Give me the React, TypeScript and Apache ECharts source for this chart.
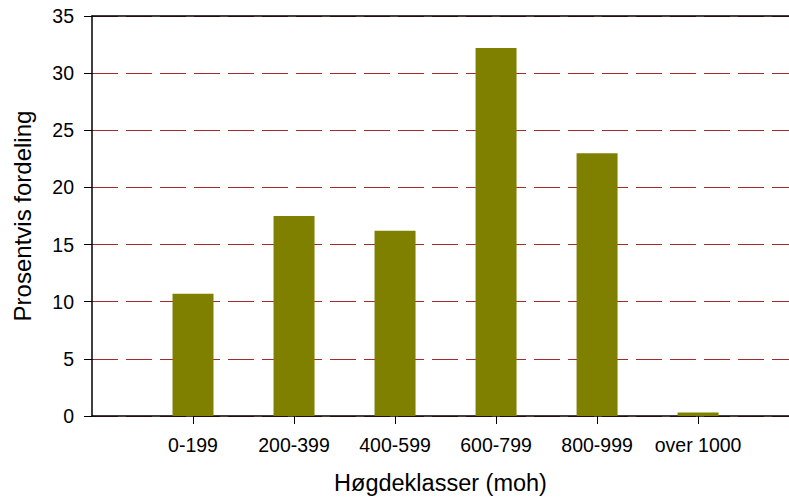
import React, { useEffect, useRef } from "react";
import * as echarts from "echarts";

const categories = ["0-199", "200-399", "400-599", "600-799", "800-999", "over 1000"];
const values = [10.7, 17.5, 16.2, 32.2, 23.0, 0.3];
const yTicks = [0, 5, 10, 15, 20, 25, 30, 35];
const xTitle = "Høgdeklasser (moh)";
const yTitle = "Prosentvis fordeling";

const FONT = "'Liberation Sans', Arial, sans-serif";

export default function App() {
  const ref = useRef<HTMLDivElement>(null);
  useEffect(() => {
    if (!ref.current) return;
    const chart = echarts.init(ref.current, undefined, { renderer: "svg" });
    const positions = categories.map((_, i) => i + 1);
    chart.setOption({
      animation: false,
      backgroundColor: "#ffffff",
      grid: { left: 92, right: 0, top: 16, bottom: 85 },
      xAxis: [
        {
          type: "value",
          min: 0,
          max: 6.9,
          interval: 1,
          name: xTitle,
          nameLocation: "middle",
          nameGap: 55,
          nameTextStyle: { fontFamily: FONT, fontSize: 23.5, color: "#000" },
          axisLine: { show: true, lineStyle: { color: "#000", width: 1.5 } },
          axisTick: { show: true, length: 8, lineStyle: { color: "#000" }, customValues: positions },
          axisLabel: {
            show: true,
            customValues: positions,
            formatter: (v: number) => categories[Math.round(v) - 1] ?? "",
            fontFamily: FONT,
            fontSize: 19.5,
            color: "#000",
            margin: 19,
          },
          splitLine: { show: false },
        },
        {
          type: "value",
          position: "top",
          min: 0,
          max: 6.9,
          axisLine: { show: true, lineStyle: { color: "#000", width: 1.5 } },
          axisTick: { show: false },
          axisLabel: { show: false },
          splitLine: { show: false },
        },
      ],
      yAxis: {
        type: "value",
        min: yTicks[0],
        max: yTicks[yTicks.length - 1],
        interval: 5,
        name: yTitle,
        nameLocation: "middle",
        nameGap: 58,
        nameTextStyle: { fontFamily: FONT, fontSize: 24, color: "#000" },
        axisLine: { show: true, lineStyle: { color: "#000", width: 1.5 } },
        axisTick: { show: true, length: 8, lineStyle: { color: "#000" } },
        axisLabel: { fontFamily: FONT, fontSize: 19.5, color: "#000", margin: 18 },
        splitLine: {
          show: true,
          lineStyle: { color: "#A52A2A", width: 1, type: [26, 8] },
        },
      },
      series: [
        {
          type: "bar",
          data: values.map((v, i) => [positions[i], v]),
          barWidth: 41,
          itemStyle: { color: "#808000" },
        },
      ],
    });
    return () => chart.dispose();
  }, []);
  return (
    <div
      ref={ref}
      style={{ position: "absolute", left: 0, top: 0, width: 789, height: 501 }}
    />
  );
}
